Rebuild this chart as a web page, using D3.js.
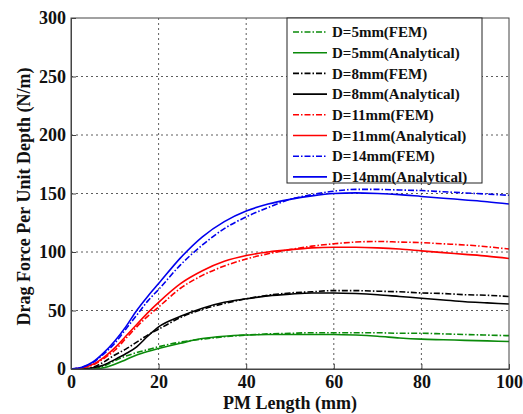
<!DOCTYPE html>
<meta charset="utf-8">
<style>
    body { margin: 0; background: #fff; }
    .grid line { stroke: #333; stroke-dasharray: 2,3; stroke-width: 0.8; }
    .axis path, .axis line { stroke: #444; }
</style>
<svg width="523" height="414"></svg>
<script src="https://d3js.org/d3.v7.min.js"></script>
<script>

    // PM length (mm)
    var lengths = [0, 2.5, 5, 7.5, 10, 12.5, 15, 17.5, 20, 25, 30, 35, 40, 45, 50, 55, 60, 65, 70, 75, 80, 85, 90, 95, 100];

    var d5Fem  = [0, 0, 0, 2.5, 7, 11, 14, 16.5, 19, 23, 25.5, 27.5, 29, 30, 30.5, 31, 31, 31, 31, 30.5, 30.5, 30, 29.5, 29, 28.5];
    var d5Ana  = [0, 0, 0, 1, 4, 8, 12, 15, 17.5, 22, 26, 28, 29, 29.5, 29.5, 29.5, 29.5, 29, 28, 26.5, 25.5, 25, 24.5, 24, 23.5];
    var d8Fem  = [0, 0, 1.5, 6, 12, 17, 23, 29, 34, 44, 51, 56, 60, 63, 65, 66, 67, 67, 66.5, 66, 65, 64.5, 63.5, 63, 62];
    var d8Ana  = [0, 0, 1, 3.5, 8, 13, 19, 28, 36, 45, 52, 57, 60, 62.5, 64, 65, 65, 64.5, 63.5, 62, 60.5, 59, 57.5, 56.5, 55.5];
    var d11Fem = [0, 1, 3.5, 9, 16, 26, 36, 45, 53, 69, 80, 88, 94, 98.5, 102, 105, 107, 108.5, 109, 108.5, 108, 107, 106, 104.5, 102.5];
    var d11Ana = [0, 1, 4, 10, 18, 28, 38, 48, 57, 73, 84, 92, 97, 100, 102, 103.5, 104, 104, 103.5, 102.5, 101, 99.5, 98, 96.5, 94.5];
    var d14Fem = [0, 1.5, 5.5, 13, 22, 34, 46, 58, 68, 89, 106, 120, 130, 138, 145, 149, 152, 153.5, 153.5, 153, 152.5, 151.5, 150.5, 149.5, 148.5];
    var d14Ana = [0, 1.5, 6, 14, 24, 36, 50, 62, 73, 95, 113, 126, 135, 141, 145, 148, 150, 150.5, 150, 149, 147.5, 146, 144.5, 143, 141];

    var seriesNames = ["D=5mm(FEM)", "D=5mm(Analytical)", "D=8mm(FEM)", "D=8mm(Analytical)",
                       "D=11mm(FEM)", "D=11mm(Analytical)", "D=14mm(FEM)", "D=14mm(Analytical)"];
    var seriesValues = [d5Fem, d5Ana, d8Fem, d8Ana, d11Fem, d11Ana, d14Fem, d14Ana];
    var seriesColors = ["#0a8a0a", "#0a8a0a", "#000000", "#000000", "#ff0000", "#ff0000", "#0000ee", "#0000ee"];

    var xTicks = [0, 20, 40, 60, 80, 100],
        yTicks = [0, 50, 100, 150, 200, 250, 300];

    var serif = "'Liberation Serif', 'DejaVu Serif', serif";

    var svg = d3.select("svg"),
        margin = {top: 18, right: 14, bottom: 45, left: 71},
        width = +svg.attr("width") - margin.left - margin.right,
        height = +svg.attr("height") - margin.top - margin.bottom;

    var x = d3.scaleLinear().domain([0, 100]).range([0, width]),
        y = d3.scaleLinear().domain([0, 300]).range([height, 0]);

    var g = svg.append("g")
        .attr("transform", "translate(" + margin.left + "," + margin.top + ")");

    // dotted grid
    g.append("g").attr("class", "grid")
        .selectAll("line").data(xTicks.slice(1, -1)).enter().append("line")
        .attr("x1", function(d) { return x(d); }).attr("x2", function(d) { return x(d); })
        .attr("y1", 0).attr("y2", height);
    g.append("g").attr("class", "grid")
        .selectAll("line").data(yTicks.slice(1, -1)).enter().append("line")
        .attr("x1", 0).attr("x2", width)
        .attr("y1", function(d) { return y(d); }).attr("y2", function(d) { return y(d); });

    var line = d3.line()
        .x(function(d) { return x(d[0]); })
        .y(function(d) { return y(d[1]); })
        .curve(d3.curveMonotoneX);

    seriesValues.forEach(function(vals, i) {
        g.append("path")
            .datum(lengths.map(function(l, j) { return [l, vals[j]]; }))
            .attr("fill", "none")
            .attr("stroke", seriesColors[i])
            .attr("stroke-width", 1.6)
            .attr("stroke-dasharray", i % 2 === 0 ? "6,2,1.5,2" : null)
            .attr("d", line);
    });

    // axes
    g.append("g")
        .attr("class", "axis axis--x")
        .attr("transform", "translate(0," + height + ")")
        .call(d3.axisBottom(x).tickValues(xTicks).tickSize(-5).tickPadding(6).tickSizeOuter(0));

    g.append("g")
        .attr("class", "axis axis--y")
        .call(d3.axisLeft(y).tickValues(yTicks).tickSize(-5).tickPadding(5).tickSizeOuter(0));

    svg.selectAll(".axis")
        .attr("font-family", serif)
        .attr("font-size", 18)
        .attr("font-weight", "bold");
    svg.selectAll(".axis text").attr("fill", "#111");

    // top and right frame
    g.append("rect")
        .attr("width", width).attr("height", height)
        .attr("fill", "none").attr("stroke", "#444").attr("stroke-width", 1);

    // axis titles
    svg.append("text")
        .attr("x", margin.left + width / 2)
        .attr("y", 409)
        .attr("text-anchor", "middle")
        .attr("font-family", serif)
        .attr("font-weight", "bold")
        .attr("font-size", 18)
        .attr("fill", "#111")
        .text("PM Length (mm)");

    svg.append("text")
        .attr("transform", "translate(30," + (margin.top + height / 2 + 3) + ") rotate(-90)")
        .attr("text-anchor", "middle")
        .attr("font-family", serif)
        .attr("font-weight", "bold")
        .attr("font-size", 18)
        .attr("fill", "#111")
        .text("Drag Force Per Unit Depth (N/m)");

    // legend
    var legend = svg.append("g").attr("transform", "translate(287,18)");
    legend.append("rect")
        .attr("width", 195).attr("height", 165)
        .attr("fill", "#fff").attr("stroke", "#222").attr("stroke-width", 1);

    var items = legend.selectAll(".item")
        .data(seriesNames).enter().append("g")
        .attr("transform", function(d, i) { return "translate(0," + (14 + i * 20.7) + ")"; });
    items.append("line")
        .attr("x1", 6).attr("x2", 40)
        .attr("stroke", function(d, i) { return seriesColors[i]; })
        .attr("stroke-width", 1.6)
        .attr("stroke-dasharray", function(d, i) { return i % 2 === 0 ? "6,2,1.5,2" : null; });
    items.append("text")
        .attr("x", 45).attr("dy", "0.35em")
        .attr("font-family", serif)
        .attr("font-weight", "bold")
        .attr("font-size", 15)
        .attr("fill", "#111")
        .text(function(d) { return d; });
</script>
